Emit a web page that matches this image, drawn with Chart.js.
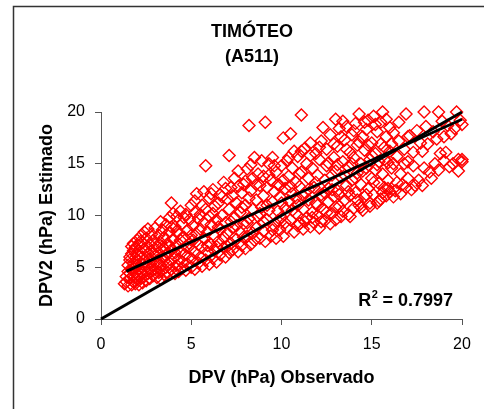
<!DOCTYPE html>
<html>
<head>
<meta charset="utf-8">
<script src="https://cdn.jsdelivr.net/npm/chart.js@4.4.1/dist/chart.umd.min.js"></script>
<style>
  html, body { margin: 0; padding: 0; background: #fff; }
  #wrap { width: 484px; height: 409px; }
</style>
</head>
<body>
<div id="wrap"><canvas id="grafico"></canvas></div>
<script>
// titulo e eixos
const tituloLinhas = ['TIMÓTEO', '(A511)'];
const tituloX = 'DPV (hPa) Observado';
const tituloY = 'DPV2 (hPa) Estimado';
const r2Texto = '0.7997';
const escala = [0, 20, 5]; // min, max, passo

// pontos: [DPV observado, DPV2 estimado]
const pontos = [
  [1.3,3.4],[1.4,3.6],[1.4,4.1],[1.5,3.2],[1.5,4.6],[1.5,5.2],[1.6,3.9],[1.6,4.4],[1.6,5.7],[1.7,3.3],
  [1.7,4.8],[1.7,6.3],[1.7,7.0],[1.8,3.6],[1.8,4.2],[1.8,5.4],[1.8,6.6],[1.8,7.3],[1.9,3.4],[1.9,4.5],
  [1.9,5.0],[1.9,5.9],[1.9,6.9],[2.0,3.8],[2.0,4.3],[2.0,6.2],[2.0,7.6],
  [2.1,3.3],[2.1,4.9],[2.1,5.6],[2.1,7.1],[2.2,3.9],[2.2,4.6],[2.2,6.5],[2.2,8.0],[2.3,3.5],[2.3,5.3],
  [2.3,6.0],[2.3,7.4],[2.4,4.1],[2.4,4.8],[2.4,6.8],[2.4,8.4],[2.5,3.7],[2.5,5.5],[2.5,7.8],[2.6,4.4],
  [2.6,5.1],[2.6,6.3],[2.6,8.7],[2.7,3.9],[2.7,5.8],[2.7,7.2],[2.8,4.6],[2.8,6.6],[2.8,8.2],[2.9,4.2],
  [2.9,5.3],[2.9,7.6],[3.0,4.8],[3.0,6.1],[3.0,8.8],
  [3.1,4.0],[3.1,5.6],[3.1,7.0],[3.2,4.5],[3.2,6.4],[3.2,8.1],[3.3,3.9],[3.3,5.2],[3.3,7.4],[3.3,9.4],
  [3.4,4.7],[3.4,6.0],[3.4,8.6],[3.5,4.3],[3.5,5.6],[3.5,6.8],[3.5,7.9],[3.6,5.0],[3.6,9.1],[3.7,4.5],
  [3.7,6.3],[3.7,7.3],[3.8,5.4],[3.8,8.4],[3.8,9.8],[3.9,4.8],[3.9,6.7],[3.9,11.2],[4.0,5.9],[4.0,7.7],
  [4.1,4.4],[4.1,6.4],[4.1,8.9],[4.2,5.2],[4.2,7.1],[4.2,9.9],[4.3,4.6],[4.3,5.8],[4.3,8.2],[4.4,6.6],
  [4.4,7.6],[4.4,10.4],[4.5,4.9],[4.5,5.5],[4.5,9.2],[4.6,6.2],[4.6,7.9],[4.7,4.7],[4.7,7.0],[4.7,10.1],
  [4.8,5.3],[4.8,8.6],[4.9,6.0],[4.9,9.6],[5.0,5.0],[5.0,6.8],[5.0,11.0],
  [5.1,5.7],[5.1,7.6],[5.1,9.0],[5.2,4.8],[5.2,6.4],[5.2,10.3],[5.3,8.2],[5.3,12.1],[5.4,5.4],[5.4,7.2],
  [5.4,9.7],[5.5,6.0],[5.5,8.7],[5.6,5.1],[5.6,6.9],[5.6,11.0],[5.7,7.8],[5.7,9.3],[5.8,5.7],[5.8,14.8],
  [5.8,10.6],[5.9,6.5],[5.9,8.4],[6.0,5.3],[6.0,11.7],
  [6.1,7.2],[6.1,9.1],[6.2,5.9],[6.2,10.2],[6.2,12.5],[6.3,6.6],[6.3,8.0],[6.4,5.5],[6.4,9.6],[6.5,7.5],
  [6.5,11.2],[6.6,6.2],[6.6,8.6],[6.6,12.0],[6.7,10.0],[6.8,6.9],[6.8,7.9],[6.8,13.2],[6.9,6.0],[6.9,9.3],
  [7.0,8.3],[7.0,11.6],
  [7.1,6.4],[7.1,15.8],[7.1,10.6],[7.2,7.3],[7.2,12.7],[7.3,8.8],[7.3,6.7],[7.4,9.8],[7.4,13.6],[7.5,7.7],
  [7.5,11.2],[7.6,6.5],[7.6,14.3],[7.7,8.4],[7.7,10.3],[7.8,12.2],[7.8,7.1],[7.9,9.2],[7.9,13.0],[8.0,6.8],
  [8.0,11.0],
  [8.1,8.0],[8.1,14.5],[8.2,18.7],[8.2,9.7],[8.3,7.2],[8.3,12.4],[8.4,10.6],[8.4,13.6],[8.5,7.6],[8.5,15.6],
  [8.6,8.8],[8.6,11.5],[8.7,14.0],[8.7,9.9],[8.8,7.8],[8.8,12.9],[8.9,10.8],[9.0,8.5],[9.0,13.8],[9.0,11.9],
  [9.1,19.0],[9.1,7.5],[9.2,9.6],[9.2,12.7],[9.3,15.0],[9.3,10.5],[9.4,8.0],[9.4,13.4],[9.5,11.3],[9.5,15.6],
  [9.6,9.0],[9.6,12.3],[9.7,7.8],[9.7,14.2],[9.8,10.4],[9.8,13.0],[9.9,8.6],[9.9,11.8],[10.0,9.8],[10.0,14.8],
  [10.1,17.5],[10.1,8.0],[10.2,12.6],[10.2,10.7],[10.3,15.3],[10.3,8.8],[10.4,13.8],[10.4,11.4],[10.5,17.9],[10.5,9.6],
  [10.6,12.1],[10.6,14.6],[10.7,8.4],[10.7,16.2],[10.8,10.2],[10.8,13.2],[10.9,11.0],[10.9,15.7],[11.0,9.2],[11.0,12.8],
  [11.1,19.7],[11.1,14.2],[11.2,8.7],[11.2,10.6],[11.3,16.5],[11.3,12.2],[11.4,9.8],[11.4,15.0],[11.5,11.5],[11.5,13.6],
  [11.6,8.9],[11.6,17.0],[11.7,10.3],[11.7,14.6],[11.8,12.7],[11.8,9.3],[11.9,16.0],[11.9,11.2],[12.0,13.9],[12.0,10.0],
  [12.1,8.8],[12.1,15.4],[12.2,12.0],[12.2,17.2],[12.3,18.5],[12.3,10.6],[12.4,13.4],[12.4,9.5],[12.5,14.8],[12.5,16.4],
  [12.6,11.3],[12.6,12.6],[12.7,9.2],[12.7,17.8],[12.8,13.9],[12.8,10.2],[12.9,15.6],[12.9,11.8],[13.0,19.3],[13.0,9.6],
  [13.0,14.3],
  [13.1,12.4],[13.1,16.7],[13.2,10.9],[13.2,18.4],[13.3,13.7],[13.3,9.9],[13.4,15.2],[13.4,19.1],[13.5,11.5],[13.5,17.3],
  [13.6,12.9],[13.6,18.6],[13.7,10.1],[13.7,14.7],[13.8,16.1],[13.8,11.9],[13.9,17.8],[13.9,13.4],[14.0,10.7],[14.0,15.6],
  [14.1,12.2],[14.1,18.9],[14.2,14.1],[14.2,16.8],[14.3,19.8],[14.3,11.0],[14.4,15.0],[14.4,13.0],[14.5,17.6],[14.5,10.5],
  [14.6,11.8],[14.6,16.3],[14.7,14.6],[14.7,18.3],[14.8,12.6],[14.8,19.2],[14.9,15.4],[14.9,11.2],[15.0,13.6],[15.0,17.0],
  [15.1,19.6],[15.1,12.0],[15.2,14.4],[15.2,16.0],[15.3,11.2],[15.3,18.1],[15.4,13.1],[15.4,15.2],[15.5,19.0],[15.5,11.6],
  [15.6,20.0],[15.6,14.0],[15.7,16.6],[15.7,12.7],[15.8,17.6],[15.8,11.9],[15.9,15.1],[15.9,13.4],[16.0,18.5],[16.0,12.3],
  [16.1,14.6],[16.1,16.9],[16.2,11.8],[16.2,18.0],[16.4,13.2],[16.4,15.7],[16.5,17.2],[16.6,12.1],[16.6,14.0],[16.8,16.4],
  [16.9,19.8],[16.9,12.7],[17.0,15.2],[17.0,13.6],
  [17.1,17.7],[17.2,12.5],[17.3,14.8],[17.3,16.1],[17.4,12.9],[17.5,18.2],[17.6,13.4],[17.7,17.0],[17.8,16.2],[17.8,12.9],
  [17.9,20.0],[17.9,14.6],[18.0,18.6],
  [18.1,16.9],[18.2,14.2],[18.3,13.6],[18.4,18.1],[18.5,15.0],[18.6,17.4],[18.7,20.0],[18.7,14.4],[18.8,16.0],[18.9,19.1],
  [19.0,15.3],[19.0,17.6],
  [19.1,16.1],[19.2,18.7],[19.3,14.7],[19.4,17.9],[19.5,15.0],[19.6,18.4],[19.7,20.0],[19.8,14.3],[19.8,15.4],[19.9,19.2],
  [20.0,18.8],[20.0,15.2],[20.0,15.4],
  // pontos adicionais na faixa densa
  [1.6,6.0],[1.8,4.9],[2.0,5.2],[2.2,7.5],[2.3,4.4],[2.5,6.6],[2.7,4.8],[2.9,6.4],[3.0,7.2],[3.2,5.3],
  [3.4,7.0],[3.6,6.1],[3.8,7.0],[3.9,8.9],[4.0,4.6],[4.0,10.2],
  [4.2,8.5],[4.6,9.8],[4.9,7.3],[5.0,8.1],[5.2,11.4],[5.5,10.1],[5.7,12.3],[5.9,7.1],[6.0,9.9],[6.1,12.1],
  [6.3,10.9],[6.4,7.0],[6.5,8.9],[6.7,11.8],[6.9,12.6],[7.0,7.0],[7.2,9.4],[7.3,11.9],[7.5,9.0],[7.6,12.8],
  [7.8,10.8],[7.9,7.9],[8.0,13.3],[8.1,9.3],[8.2,11.7],[8.3,14.9],[8.4,8.3],[8.6,13.0],[8.8,10.2],[8.9,15.3],
  [9.0,9.4],[9.2,11.0],[9.3,13.9],[9.5,8.6],[9.6,14.8],[9.8,9.5],[9.9,12.9],[10.0,11.2],[10.1,13.4],[10.2,9.3],
  [10.4,15.6],[10.5,12.8],[10.6,10.5],[10.8,11.7],[10.9,9.0],[11.0,14.0],[11.1,16.2],[11.2,11.9],[11.3,9.4],[11.5,12.5],
  [11.6,15.8],[11.7,9.8],[11.9,13.2],[12.0,11.0],[12.1,16.6],[12.2,9.4],[12.4,12.2],[12.5,10.3],[12.6,15.1],[12.8,12.5],
  [12.9,16.9],[13.0,10.8],[13.1,14.9],[13.2,12.0],[13.3,17.6],[13.4,10.4],[13.5,13.9],[13.6,16.4],[13.7,12.3],[13.8,9.9],
  [13.9,15.0],[14.0,18.2],[14.1,13.6],[14.2,11.5],[14.3,17.1],[14.4,10.8],[14.5,14.3],[14.6,19.0],[14.7,12.0],[14.8,16.8],
  [14.9,10.9],[15.0,15.8],[15.1,13.2],[15.2,18.8],[15.3,14.9],[15.4,11.4],[15.5,16.9],[15.6,12.2],[15.7,15.4],[15.8,19.3],
  [15.9,12.6],[16.0,16.2],[16.2,15.0],[16.3,12.4],[16.5,19.0],[16.7,13.0],[16.8,15.0],[17.0,17.6]
];

// linha de tendencia e linha 1:1
const tendX = [1.4, 20];
const tendY = [4.6, 19.3];
const umX = [0, 20];
const umY = [0, 20];

const fonte = '"Liberation Sans", Arial, sans-serif';
Chart.defaults.font.family = fonte;
Chart.defaults.color = '#000';

const toXY = (xs, ys) => xs.map((x, i) => ({x: x, y: ys[i]}));

// desenha moldura, titulo e R2
const extras = {
  id: 'extras',
  beforeDraw(chart) {
    const ctx = chart.ctx;
    ctx.save();
    ctx.fillStyle = '#fff';
    ctx.fillRect(0, 0, chart.width, chart.height);
    ctx.strokeStyle = '#333';
    ctx.lineWidth = 1.5;
    ctx.strokeRect(13.5, 6.5, 500, 430);
    ctx.restore();
  },
  afterDraw(chart) {
    const ctx = chart.ctx;
    ctx.save();
    ctx.fillStyle = '#000';
    ctx.textAlign = 'center';
    ctx.textBaseline = 'middle';
    ctx.font = 'bold 18px ' + fonte;
    ctx.fillText(tituloLinhas[0], 252, 32);
    ctx.fillText(tituloLinhas[1], 252, 57);

    // R² = ...
    ctx.textAlign = 'left';
    ctx.textBaseline = 'alphabetic';
    const resto = ' = ' + r2Texto;
    ctx.font = 'bold 18px ' + fonte;
    const wR = ctx.measureText('R').width;
    const wResto = ctx.measureText(resto).width;
    ctx.font = 'bold 11px ' + fonte;
    const w2 = ctx.measureText('2').width;
    let x0 = 453 - (wR + w2 + wResto);
    ctx.font = 'bold 18px ' + fonte;
    ctx.fillText('R', x0, 306);
    ctx.font = 'bold 11px ' + fonte;
    ctx.fillText('2', x0 + wR + 0.5, 298);
    ctx.font = 'bold 18px ' + fonte;
    ctx.fillText(resto, x0 + wR + w2, 306);
    ctx.restore();
  }
};

const eixo = (titulo, tituloPad) => ({
  type: 'linear',
  min: escala[0],
  max: escala[1],
  ticks: {
    stepSize: escala[2],
    padding: 10,
    font: {size: 16},
    color: '#000'
  },
  grid: {
    drawOnChartArea: false,
    drawTicks: true,
    tickLength: 6,
    color: '#555'
  },
  border: {display: true, color: '#555', width: 1},
  title: {
    display: true,
    text: titulo,
    font: {size: 18, weight: 'bold'},
    color: '#000',
    padding: tituloPad
  }
});

const escalaX = eixo(tituloX, {top: 0, bottom: 10});
escalaX.afterFit = (s) => { s.height = 80; };
const escalaY = eixo(tituloY, {top: 6, bottom: 0});
escalaY.afterFit = (s) => { s.width = 71; };

new Chart(document.getElementById('grafico'), {
  type: 'scatter',
  data: {
    datasets: [{
      type: 'line',
      label: 'Tendência',
      data: toXY(tendX, tendY),
      borderColor: '#000',
      borderWidth: 3,
      pointRadius: 0,
      fill: false,
      clip: false,
      order: 0
    }, {
      type: 'line',
      label: '1:1',
      data: toXY(umX, umY),
      borderColor: '#000',
      borderWidth: 3,
      pointRadius: 0,
      fill: false,
      clip: false,
      order: 0
    }, {
      label: 'DPV2',
      data: pontos.map(p => ({x: p[0], y: p[1]})),
      pointStyle: 'rectRot',
      pointRadius: 6,
      pointBorderWidth: 1.4,
      borderColor: '#ff0000',
      backgroundColor: 'rgba(255,255,255,0)',
      clip: false,
      order: 1
    }]
  },
  options: {
    responsive: true,
    maintainAspectRatio: false,
    animation: false,
    layout: {padding: {left: 30, top: 112, right: 22, bottom: 10}},
    scales: {x: escalaX, y: escalaY},
    plugins: {
      legend: {display: false},
      tooltip: {enabled: false},
      title: {display: false}
    }
  },
  plugins: [extras]
});
</script>
</body>
</html>
